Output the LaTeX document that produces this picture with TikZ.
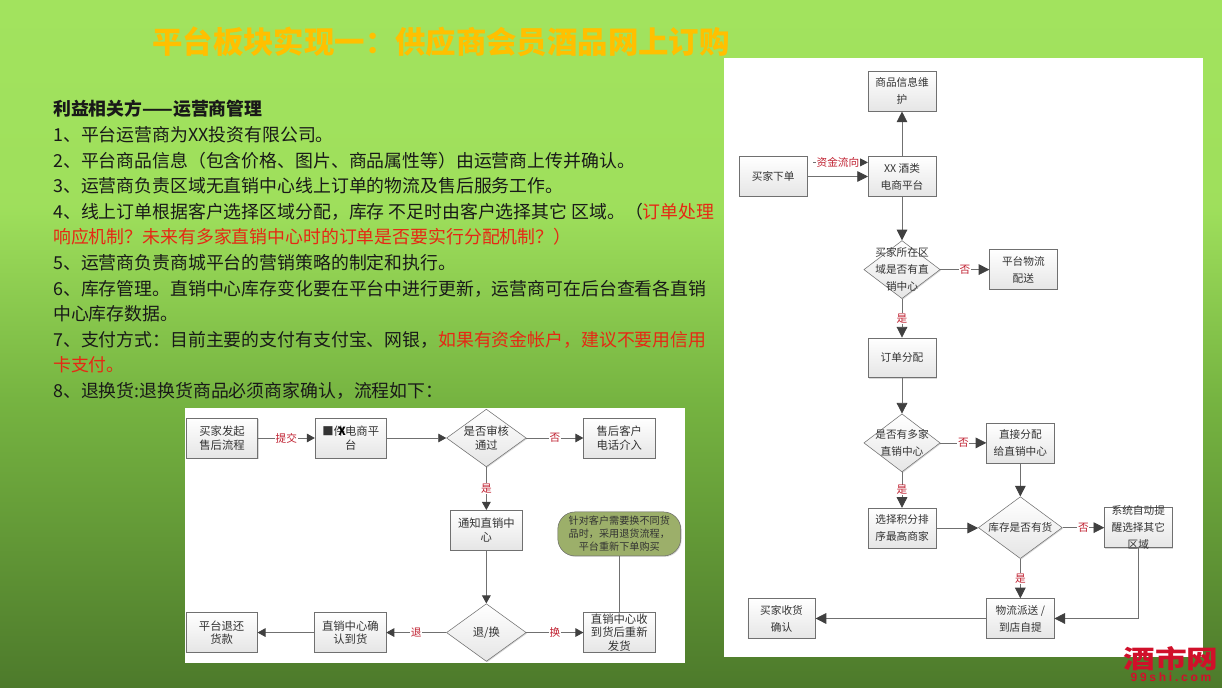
\documentclass[tikz,border=0pt]{standalone}
\usepackage{fontspec}
\usepackage{xcolor}
\setmainfont{Noto Sans CJK SC}
\newfontfamily\sitefont[LetterSpace=23]{Liberation Sans}
\newfontfamily\markfont[FakeStretch=1.25]{Noto Sans CJK SC}
\usepackage{tikz}
\usetikzlibrary{arrows.meta,positioning,shapes.geometric,shadows}
\definecolor{slidetop}{HTML}{A2E35E}
\definecolor{slidemid}{HTML}{76B441}
\definecolor{slidelow}{HTML}{4D7A2B}
\definecolor{titlegold}{HTML}{FFC000}
\definecolor{linegray}{HTML}{707070}
\definecolor{tipgray}{HTML}{404040}
\definecolor{labelred}{HTML}{C02030}
\definecolor{notered}{HTML}{E62814}
\definecolor{noteolive}{HTML}{9CAF6A}
\definecolor{sitered}{HTML}{D0102A}
\pgfdeclareverticalshading{slidegreen}{100bp}{color(0bp)=(slidelow); color(25bp)=(slidelow);
  color(46bp)=(slidemid); color(60bp)=(slidetop!92!slidemid); color(75bp)=(slidetop); color(100bp)=(slidetop)}
\newcommand{\overtext}[1]{\makebox[0pt]{\smash{\raisebox{-2pt}{\parbox[c]{40mm}{\centering #1}}}}}

\begin{document}
\begin{tikzpicture}[x=.75pt, y=-.75pt,
  node distance=15mm,
  box/.style={draw=linegray, top color=white, bottom color=black!10, align=center, inner sep=0pt,
              text=black!80, drop shadow={shadow xshift=.25mm, shadow yshift=-.25mm, fill=black!50, opacity=.3}},
  dia/.style={box, diamond, aspect=1.4},
  sbox/.style={box, minimum width=18.8mm, minimum height=10.5mm, font=\fontsize{8.5}{10}\selectfont},
  sdia/.style={dia, minimum width=21mm, minimum height=15.2mm, font=\fontsize{8.5}{10}\selectfont},
  rbox/.style={box, minimum width=17.8mm, minimum height=10.5mm, font=\fontsize{8}{12.75}\selectfont},
  rdia/.style={dia, minimum width=20.1mm, minimum height=15.3mm, font=\fontsize{8}{12.75}\selectfont},
  lab/.style={fill=white, inner sep=.5pt, text=labelred, font=\fontsize{8}{9}\selectfont},
  arr/.style={draw=linegray, semithick, -{Triangle[length=6pt, width=6.5pt, color=tipgray]}},
  rarr/.style={draw=linegray, semithick, -{Triangle[length=8pt, width=8pt, color=tipgray]}}]
% slide
\shade[shading=slidegreen] (0,0) rectangle (1222,688);
\fill[white] (185,408) rectangle (685,663);
\fill[white] (724,58) rectangle (1203,657);
\node[text=titlegold, font=\fontsize{22.8}{26}\selectfont\bfseries] (title) at (441,42)
  {平台板块实现一：供应商会员酒品网上订购};
\node[anchor=north west, align=left, inner sep=0pt, text=black!90, font=\fontsize{13.4}{19.2}\selectfont] (body) at (53,100) {%
  \textbf{利益相关方——运营商管理}\\
  1、平台运营商为XX投资有限公司。\\
  2、平台商品信息（包含价格、图片、商品属性等）由运营商上传并确认。\\
  3、运营商负责区域无直销中心线上订单的物流及售后服务工作。\\
  4、线上订单根据客户选择区域分配，库存 不足时由客户选择其它 区域。（\textcolor{notered}{订单处理}\\
  \textcolor{notered}{响应机制？未来有多家直销中心时的订单是否要实行分配机制？）}\\
  5、运营商负责商城平台的营销策略的制定和执行。\\
  6、库存管理。直销中心库存变化要在平台中进行更新，运营商可在后台查看各直销\\
  中心库存数据。\\
  7、支付方式：目前主要的支付有支付宝、网银，\textcolor{notered}{如果有资金帐户，建议不要用信用}\\
  \textcolor{notered}{卡支付。}\\
  8、退换货:退换货商品必须商家确认，流程如下：};
% return flow
\node[sbox] (start) at (222,438) {买家发起\\售后流程};
\node[sbox, right=of start] (shop) {■件\kern-.6em\textcolor{black}{\textbf{X}}\kern-.05em 电商平\\台};
\node[sdia, right=15.7mm of shop] (check) {是否审核\\通过};
\node[sbox, right=of check] (phone) {售后客户\\电话介入};
\node[sbox, below=11.3mm of check] (notify) {通知直销中\\心};
\node[sdia, below=14mm of notify] (choice) {退/换};
\node[sbox, left=15.8mm of choice] (confirm) {直销中心确\\认到货};
\node[sbox, left=of confirm] (refund) {平台退还\\货款};
\node[sbox, right=of choice] (resend) {直销中心收\\到货后重新\\发货};
\node[box, above=14.8mm of resend, rounded corners=13pt, fill=noteolive, top color=noteolive, bottom color=noteolive,
      minimum width=32.4mm, minimum height=11.6mm, font=\fontsize{7.6}{9.8}\selectfont] (note)
  {针对客户需要换不同货\\品时，采用退货流程，\\平台重新下单购买};
\draw[arr] (start) -- node[lab] (l1) {提交} (shop);
\draw[arr] (shop) -- (check);
\draw[arr] (check) -- node[lab] (l2) {否} (phone);
\draw[arr] (check) -- node[lab] (l3) {是} (notify);
\draw[arr] (notify) -- (choice);
\draw[arr] (choice) -- node[lab] (l4) {退} (confirm);
\draw[arr] (confirm) -- (refund);
\draw[arr] (choice) -- node[lab] (l5) {换} (resend);
\draw[draw=linegray, semithick] (note) -- (resend);
% order flow
\node[rbox] (platform) at (902,176.5) {XX 酒类\\电商平台};
\node[rbox, left=16mm of platform] (buyer) {买家下单};
\node[rbox, above=11.8mm of platform] (info) {商品信息维\\护};
\node[rdia, below=11.5mm of platform] (area) {\overtext{买家所在区\\域是否有直\\销中心}};
\node[rbox, right=12.9mm of area] (express) {平台物流\\配送};
\node[rbox, below=10.2mm of area] (assign) {订单分配};
\node[rdia, below=9.4mm of assign] (multi) {\overtext{是否有多家\\直销中心}};
\node[rbox, right=12.1mm of multi] (direct) {直接分配\\给直销中心};
\node[rbox, below=9.4mm of multi] (rank) {选择积分排\\序最高商家};
\node[rdia, below=8.8mm of direct, minimum width=22.1mm, minimum height=16.3mm] (stock) {\overtext{库存是否有货}};
\node[rbox, right=11mm of stock] (remind) {\overtext{系统自动提\\醒选择其它\\区域}};
\node[rbox, below=10.4mm of stock] (deliver) {物流派送 /\\到店自提};
\node[rbox, left=45mm of deliver] (receive) {买家收货\\确认};
\coordinate (flow) at ([xshift=1.6mm, yshift=-1.6mm]buyer.north east);
\draw[rarr] (flow) -- node[lab, pos=.45] (l6) {资金流向} (flow -| platform.west);
\draw[rarr] (buyer) -- (platform);
\draw[rarr] (platform) -- (info);
\draw[rarr] (platform) -- (area);
\draw[rarr] (area) -- node[lab] (l7) {否} (express);
\draw[rarr] (area) -- node[lab] (l8) {是} (assign);
\draw[rarr] (assign) -- (multi);
\draw[rarr] (multi) -- node[lab] (l9) {否} (direct);
\draw[rarr] (multi) -- node[lab] (l10) {是} (rank);
\draw[rarr] (direct) -- (stock);
\draw[rarr] (rank.east) -- (rank.east -| stock.west);
\draw[rarr] (stock) -- node[lab] (l11) {否} (remind);
\draw[rarr] (stock) -- node[lab] (l12) {是} (deliver);
\draw[rarr] (remind) |- (deliver);
\draw[rarr] (deliver) -- (receive);
% site mark
\node[text=sitered, inner sep=0pt, font=\markfont\fontsize{19}{20}\selectfont\bfseries] (site) at (1171,658.5) {酒市网};
\node[text=sitered, inner sep=0pt, font=\sitefont\fontsize{9}{9}\selectfont\bfseries] (siteurl) at (1171,677) {99shi.com};
\end{tikzpicture}
\end{document}
